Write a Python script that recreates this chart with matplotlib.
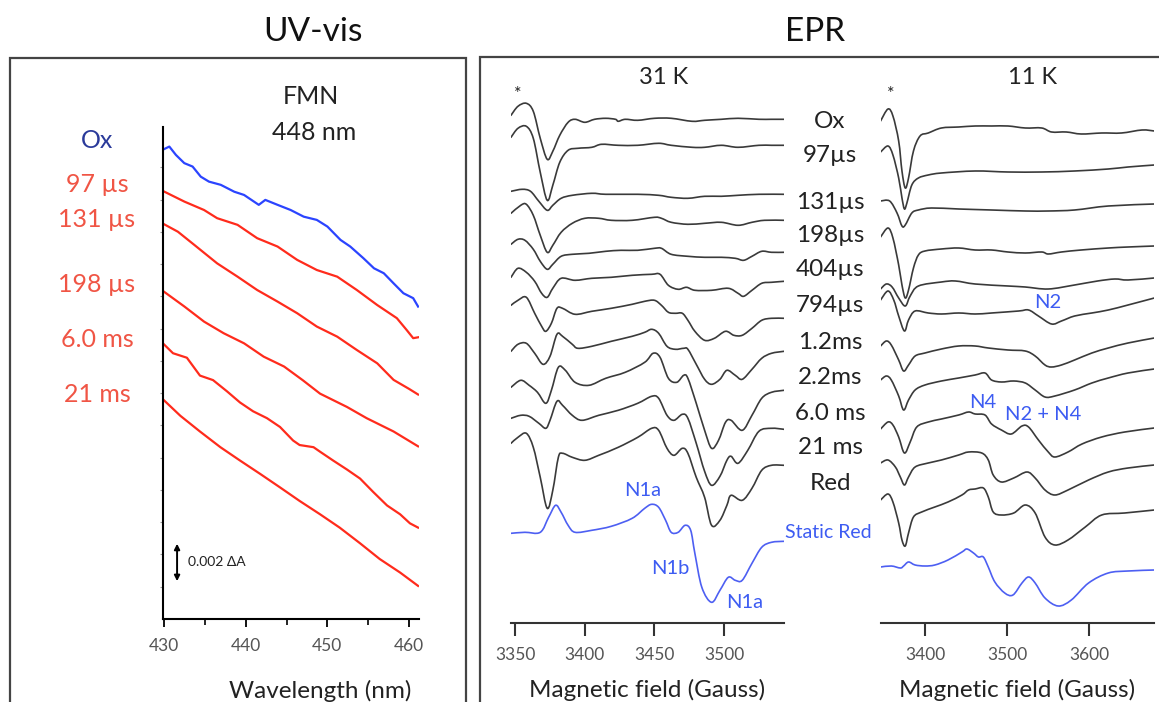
import numpy as np
import matplotlib.pyplot as plt
from matplotlib.patches import Rectangle, PathPatch
from matplotlib.path import Path

plt.rcParams['font.family'] = ['Lato', 'DejaVu Sans']

# ---------------- UV-vis at 448 nm : (wavelength nm, dA x 1e-3, stacked) ----------------
uv_ox = [(430.0, 21.85), (430.65, 21.97), (431.46, 21.58), (432.48, 21.20), (433.5, 21.04),
         (434.5, 20.57), (435.5, 20.34), (436.95, 20.19), (438.6, 19.87), (439.8, 19.72),
         (441.6, 19.26), (442.4, 19.49), (443.9, 19.26), (445.5, 19.02), (447.1, 18.71),
         (448.7, 18.56), (450.0, 18.25), (451.6, 17.63), (452.8, 17.32), (454.4, 16.78),
         (455.7, 16.31), (456.9, 16.08), (458.1, 15.61), (459.3, 15.15), (460.5, 14.92),
         (461.1, 14.53)]
uv_97us = [(430.0, 19.88), (432.5, 19.41), (434.9, 19.02), (436.5, 18.64), (439.0, 18.33),
           (441.4, 17.71), (443.9, 17.32), (446.3, 16.70), (448.7, 16.23), (451.2, 15.92),
           (453.6, 15.30), (456.1, 14.60), (458.5, 13.99), (459.7, 13.44), (460.5, 13.06),
           (461.1, 13.10)]
uv_131us = [(430.0, 18.36), (431.7, 18.01), (433.7, 17.40), (436.5, 16.54), (439.0, 15.92),
            (441.4, 15.30), (443.9, 14.76), (446.3, 14.22), (448.7, 13.60), (451.2, 13.13),
            (453.6, 12.51), (456.1, 11.89), (458.1, 11.12), (460.0, 10.70), (461.1, 10.44)]
uv_198us = [(430.0, 15.22), (432.5, 14.53), (434.9, 13.83), (437.3, 13.29), (439.8, 12.82),
            (442.2, 12.20), (444.7, 11.74), (447.0, 11.10), (449.1, 10.48), (452.4, 9.86),
            (454.8, 9.34), (458.1, 8.72), (461.1, 8.03)]
uv_6ms = [(430.0, 12.77), (431.1, 12.36), (432.8, 12.15), (434.4, 11.32), (436.0, 11.11),
          (437.7, 10.59), (439.3, 10.07), (440.9, 9.66), (442.6, 9.34), (444.2, 8.93),
          (445.8, 8.30), (446.6, 8.09), (448.3, 7.99), (449.1, 7.78), (450.7, 7.37),
          (452.4, 6.95), (454.0, 6.53), (455.6, 5.91), (457.3, 5.28), (458.9, 4.87),
          (460.1, 4.45), (461.1, 4.25)]
uv_21ms = [(430.0, 10.17), (432.0, 9.45), (434.4, 8.72), (436.9, 7.99), (439.3, 7.37),
           (441.8, 6.74), (444.2, 6.12), (446.6, 5.49), (449.1, 4.87), (451.5, 4.25),
           (454.0, 3.52), (456.4, 2.79), (458.9, 2.16), (461.1, 1.54)]
uv_labels = ['Ox', '97 µs', '131 µs', '198 µs', '6.0 ms', '21 ms']
uv_label_y = [141, 184, 220, 284, 339, 395]   # pixel rows of the labels

# ---------------- EPR 31 K : (field G, amplitude) ----------------
ox_31k = [(3347, 4), (3352, 13), (3358, 16), (3363, 8), (3368, -19), (3373, -40), (3377, -32),
          (3382, -16), (3388, -3), (3393, 0), (3400, -3), (3407, 0), (3415, 1), (3422, 0),
          (3424, -2), (3429, 0), (3438, -1), (3450, 1), (3462, 1), (3477, -2), (3486, -1),
          (3498, 0), (3510, 1), (3525, 0), (3534, 0), (3543, 0)]
t97_31k = [(3347, 8), (3352, 17), (3358, 19), (3363, 7), (3368, -27), (3373, -55), (3377, -40),
           (3382, -17), (3388, -5), (3395, -3), (3405, -2), (3412, 1), (3424, 0), (3438, 0),
           (3453, 2), (3462, 0), (3477, -2), (3486, -2), (3498, 0), (3510, -2), (3525, 0),
           (3534, 0), (3543, 0)]
t131_31k = [(3347, 3), (3355, 5), (3361, 3), (3367, -7), (3373, -16), (3377, -11), (3383, -4),
            (3391, -1), (3405, 1), (3415, 0), (3438, 0), (3453, -1), (3462, -3), (3474, -4),
            (3486, -2), (3498, -2), (3510, -1), (3525, 0), (3543, 0)]
t198_31k = [(3347, 7), (3354, 15), (3358, 16), (3363, 5), (3368, -15), (3373, -32), (3377, -25),
            (3383, -12), (3391, -3), (3400, 2), (3410, 2), (3419, 0), (3434, 0), (3450, 3),
            (3455, 2), (3462, -2), (3474, -4), (3486, -3), (3498, -2), (3510, -5), (3520, -2),
            (3529, 0), (3543, 0)]
t404_31k = [(3347, 8), (3352, 13), (3357, 12), (3363, 3), (3368, -9), (3373, -17), (3377, -12),
            (3383, -4), (3391, -2), (3403, -1), (3415, 1), (3426, 2), (3438, 2), (3450, 4),
            (3455, 4), (3462, -2), (3474, -4), (3486, -5), (3498, -5), (3508, -6), (3514, -8),
            (3520, -4), (3527, 1), (3534, 0), (3543, 0)]
t794_31k = [(3347, 4), (3352, 13), (3358, 9), (3364, 0), (3369, -12), (3373, -16), (3377, -7),
            (3383, 3), (3393, 1), (3405, 3), (3419, 4), (3434, 6), (3448, 7), (3454, 7),
            (3460, -4), (3467, -8), (3473, -6), (3479, -9), (3491, -9), (3503, -7), (3510, -12),
            (3514, -15), (3520, -9), (3527, -2), (3534, -1), (3543, 0)]
t1p2_31k = [(3347, 13), (3352, 18), (3358, 21), (3364, 5), (3369, -8), (3372, -13), (3376, -5),
            (3380, 10), (3384, 10), (3393, 4), (3405, 7), (3419, 10), (3434, 14), (3443, 17),
            (3450, 18), (3455, 13), (3460, 6), (3465, 5), (3470, 5), (3474, -2), (3479, -13),
            (3486, -22), (3493, -20), (3501, -13), (3507, -17), (3513, -17), (3520, -10),
            (3527, -2), (3534, 0), (3543, 0)]
t2p2_31k = [(3347, 0), (3352, 7), (3358, 8), (3364, -2), (3370, -13), (3375, -5), (3380, 17),
            (3384, 15), (3391, 7), (3395, 3), (3405, 5), (3419, 10), (3434, 15), (3443, 19),
            (3448, 22), (3453, 18), (3459, 5), (3465, 2), (3471, 3), (3474, 2), (3480, -13),
            (3486, -28), (3491, -33), (3497, -28), (3502, -19), (3508, -24), (3513, -28),
            (3520, -18), (3527, -7), (3534, -2), (3543, 0)]
t6p0_31k = [(3347, 3), (3354, 10), (3360, 5), (3366, -2), (3372, -13), (3376, 0), (3381, 23),
            (3386, 20), (3393, 8), (3403, 5), (3415, 12), (3429, 18), (3443, 28), (3449, 37),
            (3454, 33), (3460, 12), (3466, 8), (3471, 15), (3474, 12), (3480, -13), (3486, -40),
            (3491, -58), (3496, -50), (3501, -32), (3505, -30), (3513, -40), (3520, -25),
            (3527, -8), (3534, -2), (3543, 0)]
t21_31k = [(3347, 10), (3354, 13), (3360, 12), (3367, 5), (3372, 0), (3375, 8), (3380, 27),
           (3384, 23), (3391, 13), (3398, 8), (3410, 13), (3424, 18), (3438, 25), (3448, 32),
           (3453, 30), (3459, 13), (3464, 8), (3470, 14), (3474, 10), (3480, -15), (3486, -43),
           (3491, -57), (3497, -48), (3502, -32), (3505, -28), (3510, -35), (3517, -22),
           (3525, -3), (3534, 0), (3543, -1)]
red_31k = [(3347, 22), (3352, 28), (3358, 32), (3363, 18), (3368, -12), (3373, -43), (3377, -25),
           (3381, 8), (3384, 12), (3391, 8), (3400, 5), (3410, 10), (3424, 18), (3438, 28),
           (3448, 37), (3453, 35), (3459, 17), (3464, 10), (3470, 17), (3474, 12), (3480, -12),
           (3486, -32), (3491, -60), (3497, -55), (3502, -40), (3505, -30), (3513, -35),
           (3520, -23), (3527, -5), (3534, 0), (3543, 0)]
static_31k = [(3347, 8), (3357, 9), (3368, 9), (3374, 24), (3379, 36), (3383, 29), (3388, 16),
              (3393, 9), (3405, 11), (3419, 15), (3434, 23), (3443, 33), (3448, 37), (3453, 34),
              (3458, 21), (3462, 9), (3467, 9), (3472, 16), (3476, 11), (3479, -12), (3484, -46),
              (3491, -61), (3497, -49), (3503, -36), (3508, -39), (3513, -39), (3520, -22),
              (3527, -6), (3534, -1), (3543, 0)]
offsets_31k = [0, 26, 75, 101, 133, 162, 199, 232, 271, 309, 346, 422]

# ---------------- EPR 11 K ----------------
ox_11k = [(3346, 10), (3355, 22), (3361, 15), (3368, -10), (3372, -40), (3376, -57), (3380, -47),
          (3386, -20), (3394, -5), (3404, -2), (3420, 3), (3441, 4), (3461, 5), (3481, 5),
          (3501, 5), (3522, 3), (3542, 3), (3554, -1), (3572, -1), (3590, -3), (3615, -2),
          (3639, -2), (3664, 1), (3679, 0)]
t97_11k = [(3346, 13), (3355, 19), (3361, 10), (3368, -13), (3372, -33), (3375, -44), (3378, -38),
           (3384, -20), (3392, -13), (3404, -10), (3420, -8), (3461, -6), (3501, -7), (3542, -7),
           (3582, -6), (3623, -4), (3647, -2), (3679, 0)]
t131_11k = [(3346, 3), (3357, 3), (3366, -9), (3372, -22), (3376, -21), (3384, -9), (3392, -6),
            (3408, -4), (3441, -5), (3481, -6), (3522, -7), (3550, -7), (3582, -6), (3623, -2),
            (3679, 0)]
t198_11k = [(3346, 9), (3355, 18), (3361, 8), (3368, -19), (3372, -39), (3376, -52), (3380, -44),
            (3386, -22), (3392, -9), (3400, -5), (3420, -3), (3441, -2), (3461, -4), (3481, -4),
            (3501, -6), (3522, -7), (3542, -6), (3550, -8), (3566, -6), (3590, -4), (3623, -2),
            (3647, -1), (3679, 0)]
t404_11k = [(3346, -11), (3353, -6), (3360, -9), (3368, -20), (3376, -28), (3382, -18),
            (3392, -8), (3420, -4), (3437, -3), (3461, -6), (3501, -8), (3522, -9), (3550, -11),
            (3582, -7), (3610, -3), (3631, -1), (3647, -2), (3679, 0)]
t794_11k = [(3346, -2), (3355, 7), (3362, -2), (3368, -18), (3375, -33), (3380, -22), (3388, -13),
            (3404, -15), (3420, -16), (3441, -15), (3461, -16), (3481, -15), (3514, -13),
            (3526, -12), (3538, -18), (3554, -26), (3566, -23), (3582, -18), (3603, -15),
            (3623, -12), (3647, -7), (3679, 0)]
t1p2_11k = [(3346, -8), (3353, -3), (3359, -7), (3368, -22), (3374, -33), (3380, -27), (3388, -18),
            (3400, -15), (3420, -11), (3441, -8), (3461, -8), (3477, -10), (3501, -12),
            (3522, -13), (3534, -18), (3546, -27), (3554, -29), (3566, -27), (3582, -22),
            (3603, -15), (3623, -10), (3647, -5), (3679, 0)]
t2p2_11k = [(3346, -11), (3353, -7), (3359, -11), (3368, -27), (3374, -41), (3380, -31),
            (3388, -21), (3400, -16), (3420, -12), (3441, -9), (3461, -6), (3473, -4), (3481, -11),
            (3493, -13), (3508, -12), (3522, -14), (3534, -21), (3546, -28), (3558, -27),
            (3582, -21), (3603, -14), (3623, -9), (3647, -4), (3679, 0)]
t6p0_11k = [(3346, -1), (3355, 6), (3361, 3), (3368, -9), (3375, -25), (3382, -14), (3390, 1),
            (3404, 6), (3420, 9), (3441, 13), (3453, 16), (3461, 14), (3473, 13), (3481, 4),
            (3493, -2), (3505, -6), (3518, 2), (3526, 1), (3538, -12), (3550, -24), (3558, -29),
            (3574, -24), (3591, -16), (3615, -9), (3643, -4), (3679, 0)]
t21_11k = [(3346, 2), (3355, 5), (3364, -2), (3370, -12), (3375, -20), (3380, -12), (3388, -2),
           (3404, 2), (3420, 5), (3441, 10), (3453, 13), (3469, 12), (3477, 5), (3483, -10),
           (3493, -17), (3508, -13), (3524, -7), (3534, -13), (3546, -25), (3558, -30),
           (3574, -25), (3599, -15), (3623, -7), (3647, -3), (3679, 0)]
red_11k = [(3346, 10), (3355, 16), (3361, 8), (3368, -13), (3372, -30), (3376, -36), (3380, -23),
           (3386, -7), (3396, -2), (3412, 3), (3428, 8), (3445, 15), (3453, 20), (3461, 21),
           (3471, 22), (3477, 13), (3483, -2), (3493, -5), (3508, -3), (3522, 5), (3534, -3),
           (3546, -27), (3558, -35), (3574, -30), (3595, -17), (3615, -5), (3643, -3), (3679, 0)]
static_11k = [(3346, 3), (3359, 4), (3370, 2), (3374, 4), (3380, 8), (3388, 5), (3400, 4),
              (3412, 5), (3428, 10), (3445, 18), (3451, 21), (3459, 17), (3465, 13), (3471, 13),
              (3477, 3), (3485, -12), (3497, -23), (3507, -25), (3518, -13), (3526, -7),
              (3534, -13), (3546, -28), (3562, -36), (3578, -30), (3599, -13), (3623, -3),
              (3647, -1), (3679, 0)]
offsets_11k = [0, 34, 73, 115, 147, 167, 207, 238, 297, 334, 379, 439]

epr_labels = ['Ox', '97µs', '131µs', '198µs', '404µs', '794µs', '1.2ms', '2.2ms',
              '6.0 ms', '21 ms', 'Red']
epr_label_y = [121, 155, 203, 235, 270, 305, 342, 378, 413, 448, 483]

W, H = 1159, 702
BLUE_UV = '#2b44ff'
RED_UV = '#ff2b1c'
GREY = '#3a3a3a'
BLUE_EPR = '#4d5ff2'
BLUE_TXT = '#3d5cf2'


def fx(x):
    return x / W


def fy(y):
    return 1 - y / H


def axes_px(l, t, r, b):
    return fig.add_axes([fx(l), fy(b), (r - l) / W, (b - t) / H])


def smooth_path(x, y):
    # bezier curve through the read points (drawing only, no extra data)
    pts = np.column_stack([x, y])
    n = len(pts)
    verts, codes = [pts[0]], [Path.MOVETO]
    for i in range(n - 1):
        p0, p1, p2, p3 = pts[max(i - 1, 0)], pts[i], pts[i + 1], pts[min(i + 2, n - 1)]
        c1 = p1 + (p2 - p0) / 6
        c2 = p2 - (p3 - p1) / 6
        c1[0] = np.clip(c1[0], p1[0], p2[0])
        c2[0] = np.clip(c2[0], p1[0], p2[0])
        verts += [c1, c2, p2]
        codes += [Path.CURVE4] * 3
    return Path(verts, codes)


fig = plt.figure(figsize=(11.59, 7.02), dpi=100)

# panel boxes
fig.add_artist(Rectangle((fx(10), -0.1), (466 - 10) / W, fy(58) + 0.1, transform=fig.transFigure,
                         fill=False, lw=1.6, ec='#444444'))
fig.add_artist(Rectangle((fx(480), -0.1), 0.6, fy(57) + 0.1, transform=fig.transFigure,
                         fill=False, lw=1.6, ec='#444444'))
fig.text(fx(313), fy(32), 'UV-vis', fontsize=24, ha='center', va='center', color='#111111')
fig.text(fx(815), fy(32), 'EPR', fontsize=24, ha='center', va='center', color='#111111')

# ---------------- UV-vis ----------------
ax = axes_px(162.7, 127, 418.5, 619)
for i, tr in enumerate([uv_ox, uv_97us, uv_131us, uv_198us, uv_6ms, uv_21ms]):
    d = np.array(tr)
    ax.plot(d[:, 0], d[:, 1], color=BLUE_UV if i == 0 else RED_UV, lw=1.6)
ax.set_xlim(429.84, 461.15)
ax.set_ylim(0, 22.88)
for s in ['top', 'right']:
    ax.spines[s].set_visible(False)
ax.spines['left'].set_linewidth(1.5)
ax.spines['bottom'].set_linewidth(1.5)
ax.set_xticks([430, 440, 450, 460])
ax.set_xticks([435, 445, 455], minor=True)
ax.tick_params(axis='x', which='major', length=6, width=1.3, pad=8, labelsize=12.5,
               labelcolor='#555555')
ax.tick_params(axis='x', which='minor', length=4, width=1.2)
ax.set_yticks(np.arange(1.5, 22.5, 1.5))
ax.tick_params(axis='y', length=2.5, width=0.8, color='#999999', labelleft=False)
ax.annotate('', xy=(431.6, 1.63), xytext=(431.6, 3.63),
            arrowprops=dict(arrowstyle='<|-|>', lw=1.4, color='black', mutation_scale=8))
ax.text(432.9, 2.63, '0.002 ΔA', fontsize=10, va='center', color='#222222')
fig.text(fx(320), fy(691), 'Wavelength (nm)', fontsize=17.5, ha='center', va='center',
         color='#222222')
fig.text(fx(311), fy(96), 'FMN', fontsize=18, ha='center', va='center', color='#222222')
fig.text(fx(314), fy(132), '448 nm', fontsize=18, ha='center', va='center', color='#222222')
for lab, yy in zip(uv_labels, uv_label_y):
    fig.text(fx(97), fy(yy), lab, fontsize=18, ha='center', va='center',
             color='#2a3a9a' if lab == 'Ox' else '#f05545')


# ---------------- EPR ----------------
def epr_panel(l, r, xlim, ylim, traces, offsets, ticks, title, title_x, star_x):
    a = axes_px(l, 90, r, 623)
    for i, (tr, off) in enumerate(zip(traces, offsets)):
        d = np.array(tr, dtype=float)
        last = i == len(traces) - 1
        a.add_patch(PathPatch(smooth_path(d[:, 0], d[:, 1] - off), fill=False,
                              ec=BLUE_EPR if last else GREY, lw=1.2, capstyle='round',
                              joinstyle='round'))
    a.set_xlim(*xlim)
    a.set_ylim(*ylim)
    for s in ['top', 'right', 'left']:
        a.spines[s].set_visible(False)
    a.spines['bottom'].set_linewidth(1.5)
    a.spines['bottom'].set_color('#333333')
    a.set_yticks([])
    a.set_xticks(ticks)
    a.tick_params(axis='x', length=9, width=1.5, color='#333333', pad=8, labelsize=12.5,
                  labelcolor='#555555')
    fig.text(fx((l + r) / 2), fy(690), 'Magnetic field (Gauss)', fontsize=17.5, ha='center',
             va='center', color='#222222')
    fig.text(fx(title_x), fy(78), title, fontsize=17, ha='center', va='center', color='#222222')
    fig.text(fx(star_x), fy(94), '*', fontsize=13, ha='center', va='center', color='#222222')
    return a


epr_panel(511, 784, (3347, 3543), (-503.7, 29.3),
          [ox_31k, t97_31k, t131_31k, t198_31k, t404_31k, t794_31k, t1p2_31k, t2p2_31k,
           t6p0_31k, t21_31k, red_31k, static_31k], offsets_31k,
          [3350, 3400, 3450, 3500], '31 K', 664, 518)
epr_panel(881, 1154, (3346.5, 3678.6), (-492, 41),
          [ox_11k, t97_11k, t131_11k, t198_11k, t404_11k, t794_11k, t1p2_11k, t2p2_11k,
           t6p0_11k, t21_11k, red_11k, static_11k], offsets_11k,
          [3400, 3500, 3600], '11 K', 1033, 891)

for lab, yy in zip(epr_labels, epr_label_y):
    fig.text(fx(830), fy(yy), lab, fontsize=17.5, ha='center', va='center', color='#222222')
fig.text(fx(785), fy(533), 'Static Red', fontsize=14, ha='left', va='center', color=BLUE_TXT)

blue_notes = [('N1a', 643, 490), ('N1b', 670, 569), ('N1a', 745, 603), ('N2', 1048, 303),
              ('N4', 983, 403), ('N2 + N4', 1043, 414)]
for txt, x, y in blue_notes:
    fig.text(fx(x), fy(y), txt, fontsize=14.5, ha='center', va='center', color=BLUE_TXT)

fig.savefig('out.png', dpi=100)
